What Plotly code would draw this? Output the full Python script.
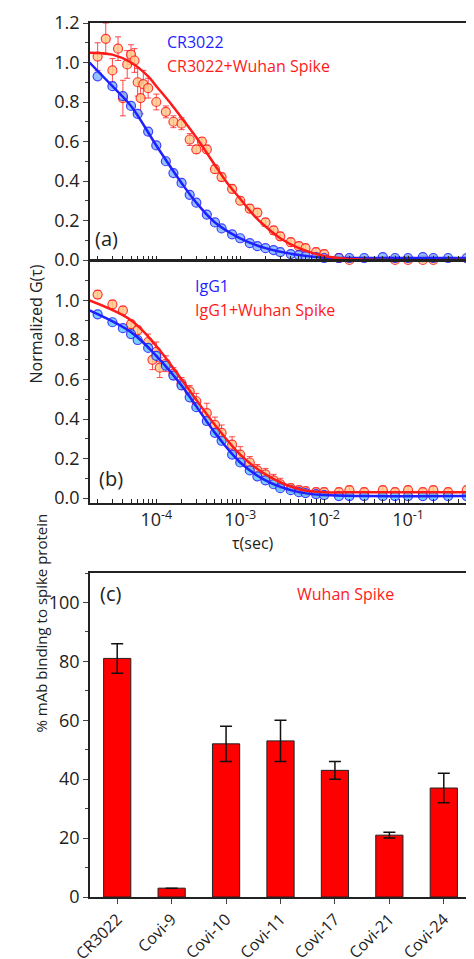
import math
import plotly.graph_objects as go

tau_a = [2e-5,3e-5,4e-5,5e-5,6e-5,8e-5,1e-4,1.3e-4,1.6e-4,2e-4,2.5e-4,3e-4,4e-4,5e-4,6e-4,8e-4,1e-3,1.3e-3,1.6e-3,2e-3,2.5e-3,3e-3,4e-3,5e-3,6e-3,8e-3,1e-2,1.5e-2,2e-2,3e-2,5e-2,7e-2,0.1,0.15,0.2,0.3,0.5]
cr_blue = [0.93,0.88,0.83,0.78,0.74,0.65,0.58,0.50,0.44,0.39,0.33,0.29,0.23,0.19,0.16,0.13,0.11,0.085,0.07,0.06,0.05,0.04,0.03,0.025,0.02,0.015,0.01,0.01,0.01,0.01,0.015,0.01,0.01,0.015,0.01,0.01,0.01]
tau_ar = [2e-5,2.5e-5,3e-5,3.5e-5,4e-5,4.5e-5,5e-5,5.5e-5,6e-5,6.5e-5,7e-5,8e-5,1e-4,1.3e-4,1.6e-4,2e-4,2.5e-4,3e-4,3.5e-4,4e-4,5e-4,6e-4,8e-4,1e-3,1.3e-3,1.6e-3,2e-3,2.5e-3,3e-3,4e-3,5e-3,6e-3,8e-3,1e-2,1.5e-2,2e-2,3e-2,5e-2,7e-2,0.1,0.15,0.2,0.3,0.5]
cr_red = [1.03,1.12,0.96,1.07,0.82,0.99,1.04,1.01,0.90,0.82,0.89,0.87,0.80,0.75,0.70,0.69,0.61,0.56,0.60,0.56,0.46,0.42,0.36,0.30,0.26,0.24,0.19,0.15,0.12,0.09,0.07,0.06,0.04,0.03,0.01,0.0,-0.005,-0.005,0.0,0.0,0.0,0.0,-0.01,-0.03]
cr_red_err = [0.07,0.08,0.06,0.06,0.09,0.07,0.05,0.06,0.07,0.08,0.07,0.05,0.04,0.03,0.03,0.03,0.03,0.02,0.02,0.02,0.02,0.02,0.02,0.02,0.02,0.02,0.02,0.02,0.02,0.02,0.02,0.02,0.02,0.02,0.02,0.02,0.02,0.02,0.02,0.02,0.02,0.02,0.02,0.02]
fit_tau_a_blue = [1.6e-5,3e-5,5e-5,1e-4,2e-4,3e-4,5e-4,1e-3,2e-3,5e-3,1e-2,3e-2,0.56]
fit_a_blue = [1.0,0.88,0.78,0.58,0.39,0.29,0.19,0.11,0.06,0.025,0.012,0.01,0.01]
fit_tau_a_red = [1.6e-5,3e-5,5e-5,8e-5,1e-4,1.5e-4,2e-4,3e-4,5e-4,7e-4,1e-3,1.5e-3,2e-3,3e-3,5e-3,1e-2,2e-2,5e-2,0.56]
fit_a_red = [1.05,1.04,1.0,0.93,0.88,0.79,0.72,0.62,0.48,0.39,0.31,0.22,0.17,0.11,0.06,0.02,0.005,0.0,0.0]

tau_b = [2e-5,3e-5,4e-5,5e-5,6e-5,8e-5,1e-4,1.3e-4,1.6e-4,2e-4,2.5e-4,3e-4,4e-4,5e-4,6e-4,8e-4,1e-3,1.3e-3,1.6e-3,2e-3,2.5e-3,3e-3,4e-3,5e-3,6e-3,8e-3,1e-2,1.5e-2,2e-2,3e-2,5e-2,7e-2,0.1,0.15,0.2,0.3,0.5]
igg_blue = [0.93,0.89,0.86,0.83,0.80,0.76,0.72,0.67,0.62,0.57,0.51,0.46,0.39,0.33,0.29,0.22,0.18,0.14,0.11,0.09,0.07,0.05,0.04,0.03,0.025,0.02,0.015,0.01,0.01,0.01,0.01,0.01,0.01,0.01,0.01,0.01,0.01]
tau_br = [2e-5,3e-5,4e-5,5e-5,6e-5,8e-5,9e-5,1e-4,1.1e-4,1.3e-4,1.6e-4,2e-4,2.5e-4,3e-4,4e-4,5e-4,6e-4,8e-4,1e-3,1.3e-3,1.6e-3,2e-3,2.5e-3,3e-3,4e-3,5e-3,6e-3,8e-3,1e-2,1.5e-2,2e-2,3e-2,5e-2,7e-2,0.1,0.15,0.2,0.3,0.5]
igg_red = [1.03,0.98,0.95,0.88,0.85,0.79,0.70,0.74,0.66,0.68,0.63,0.58,0.54,0.49,0.43,0.37,0.33,0.27,0.22,0.18,0.14,0.12,0.09,0.07,0.05,0.04,0.035,0.03,0.03,0.03,0.04,0.03,0.04,0.03,0.04,0.03,0.04,0.03,0.04]
igg_red_err = [0.02,0.02,0.02,0.02,0.02,0.04,0.05,0.05,0.05,0.04,0.03,0.03,0.03,0.04,0.05,0.04,0.04,0.04,0.04,0.03,0.03,0.03,0.03,0.03,0.02,0.02,0.02,0.02,0.02,0.02,0.02,0.02,0.02,0.02,0.02,0.02,0.02,0.02,0.02]
fit_tau_b = [1.6e-5,5e-5,1e-4,2e-4,5e-4,1e-3,2e-3,5e-3,1e-2,3e-2,0.56]
fit_b_blue = [0.95,0.84,0.72,0.57,0.33,0.18,0.09,0.03,0.015,0.01,0.01]
fit_b_red = [1.0,0.9,0.77,0.6,0.37,0.22,0.12,0.045,0.03,0.03,0.03]

antibodies = ["CR3022","Covi-9","Covi-10","Covi-11","Covi-17","Covi-21","Covi-24"]
binding = [81,3,52,53,43,21,37]
binding_err = [5,0,6,7,3,1,5]

BLUE = "#1f1fff"
RED = "#ff1a1a"
FONT = "Open Sans"
W, H = 474, 959
ML, MR, MT, MB = 82, 11, 15, 70
PH = H - MT - MB

def yd(top_px, bot_px):
    return [(H - MB - bot_px) / PH, (H - MB - top_px) / PH]

def px(xp, yp):
    return (xp - ML) / (W - ML - MR), (H - MB - yp) / PH

fig = go.Figure()

def pts(x, y, xa, ya, fill, line, err=None):
    fig.add_trace(go.Scatter(
        x=x, y=y, mode="markers", xaxis=xa, yaxis=ya, showlegend=False, cliponaxis=False,
        marker=dict(size=9, color=fill, line=dict(color=line, width=1.2), opacity=0.85),
        error_y=dict(type="data", array=err, color=line, thickness=0.8, width=3, visible=err is not None)))

def fit(x, y, xa, ya, color):
    fig.add_trace(go.Scatter(x=x, y=y, mode="lines", xaxis=xa, yaxis=ya, showlegend=False,
                             line=dict(color=color, width=2.5, shape="spline")))

pts(tau_ar, cr_red, "x", "y", "#ffc98a", RED, cr_red_err)
pts(tau_a, cr_blue, "x", "y", "#7fb8ff", BLUE)
fit(fit_tau_a_blue, fit_a_blue, "x", "y", BLUE)
fit(fit_tau_a_red, fit_a_red, "x", "y", RED)

pts(tau_br, igg_red, "x2", "y2", "#ffc98a", RED, igg_red_err)
pts(tau_b, igg_blue, "x2", "y2", "#5fc8ff", BLUE)
fit(fit_tau_b, fit_b_red, "x2", "y2", RED)
fit(fit_tau_b, fit_b_blue, "x2", "y2", BLUE)

fig.add_trace(go.Bar(x=antibodies, y=binding, xaxis="x3", yaxis="y3", showlegend=False,
                     marker=dict(color="#ff0000", line=dict(color="#222", width=1)), width=0.5,
                     error_y=dict(type="data", array=binding_err, color="#111", thickness=1.5, width=6)))

minor_vals = [m * 10**e for e in range(-5, 0) for m in range(1, 10)]
minor_vals = [v for v in minor_vals if 1.6e-5 <= v <= 0.56]
def lab(v):
    e = math.log10(v)
    if abs(e - round(e)) < 1e-9 and -4 <= round(e) <= -1:
        return "10<sup>%d</sup>" % round(e)
    return ""
ticktext = [lab(v) for v in minor_vals]

axline = dict(showline=True, linecolor="#222", linewidth=1.5, mirror=True, showgrid=False, zeroline=False,
              automargin=False, tickfont=dict(family=FONT, size=18, color="#222"))
logx = dict(type="log", range=[-4.79, -0.25], domain=[0, 1], tickvals=minor_vals, ticktext=ticktext,
            ticks="inside", ticklen=4, tickcolor="#222", **axline)

fig.update_layout(
    width=W, height=H, margin=dict(l=ML, r=MR, t=MT, b=MB),
    paper_bgcolor="white", plot_bgcolor="white", font=dict(family=FONT),
    xaxis=dict(anchor="y", showticklabels=False, **logx),
    yaxis=dict(domain=yd(15, 252), range=[0, 1.2], dtick=0.2, tickformat=".1f",
               ticks="outside", ticklen=5, minor=dict(ticks="outside", ticklen=3, dtick=0.1), **axline),
    xaxis2=dict(anchor="y2", showticklabels=True, **logx),
    yaxis2=dict(domain=yd(253, 495), range=[-0.025, 1.2], tickvals=[0,0.2,0.4,0.6,0.8,1.0],
                tickformat=".1f", ticks="outside", ticklen=5,
                minor=dict(ticks="outside", ticklen=3, tickvals=[0.1,0.3,0.5,0.7,0.9,1.1]), **axline),
    xaxis3=dict(anchor="y3", domain=[0, 1], tickangle=-45, ticks="outside", ticklen=5, **axline),
    yaxis3=dict(domain=yd(565, 889), range=[0, 110], dtick=20, ticks="outside", ticklen=5,
                minor=dict(ticks="outside", ticklen=3, dtick=10), **axline),
)
fig.update_layout(xaxis3_tickfont_size=16)

ann = [
    ("CR3022", 157, 34, BLUE, 16),
    ("CR3022+Wuhan Spike", 157, 58, RED, 16),
    ("IgG1", 185, 278, BLUE, 16),
    ("IgG1+Wuhan Spike", 185, 302, RED, 16),
    ("(a)", 85, 231, "#222", 20),
    ("(b)", 89, 470, "#222", 20),
    ("(c)", 90, 585, "#222", 20),
    ("Wuhan Spike", 287, 586, RED, 16),
    ("τ(sec)", 222, 535, "#222", 16),
]
for t, xp, yp, c, s in ann:
    x, y = px(xp, yp)
    fig.add_annotation(text=t, x=x, y=y, xref="paper", yref="paper", xanchor="left", yanchor="middle",
                       showarrow=False, font=dict(family=FONT, size=s, color=c))
x, y = px(14, 255)
fig.add_annotation(text="Normalized G(τ)", x=x, y=y, xref="paper", yref="paper", textangle=-90,
                   showarrow=False, font=dict(family=FONT, size=16, color="#222"))
x, y = px(20, 727)
fig.add_annotation(text="% mAb binding to spike protein", x=x, y=y, xref="paper", yref="paper",
                   textangle=-90, showarrow=False, font=dict(family=FONT, size=15, color="#222"))

fig.write_html("out.html")
